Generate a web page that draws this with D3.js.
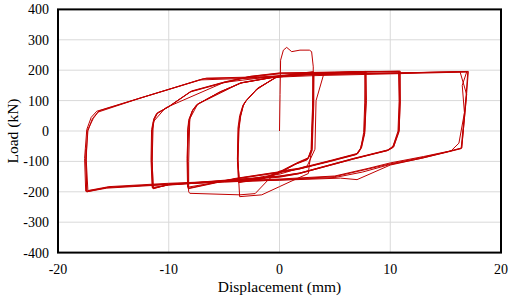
<!DOCTYPE html>
<html>
<head>
<meta charset="utf-8">
<script src="https://cdn.jsdelivr.net/npm/d3@7"></script>
<style>
  body { margin: 0; background: #fff; }
</style>
</head>
<body>
<svg width="514" height="305"></svg>
<script>
// axis ticks
const xTicks = [-20, -10, 0, 10, 20];
const yTicks = [-400, -300, -200, -100, 0, 100, 200, 300, 400];

// first loading to about 3 mm (includes the overshoot near 270 kN)
const initialRun = [
  [0, 0], [0.05, 120], [0.1, 233], [0.35, 266], [0.65, 275], [1.1, 261], [1.85, 266],
  [2.7, 266], [2.9, 261], [3.05, 211], [3.0, 100], [2.95, 0], [2.9, -60], [2.7, -110],
  [2.6, -140], [0.95, -167], [0, -183], [-1.6, -210], [-3.6, -216], [-3.7, -150]
];

// cycles at +/-3 mm
const cycles3 = [
  [[-3.7, -150], [-3.75, -100], [-3.7, 0], [-3.55, 45], [-3.3, 80], [-3.1, 96], [-2.1, 135],
   [-0.25, 179], [1.5, 188], [3.0, 195], [3.05, 100], [2.95, 0], [2.9, -60], [2.6, -88],
   [1.55, -105], [0, -134], [-1.5, -155], [-3.6, -165]],
  [[-3.6, -165], [-3.8, -90], [-3.75, 10], [-3.6, 50], [-3.3, 85], [-3.0, 100], [-2.0, 140],
   [-0.4, 175], [1.4, 185], [3.1, 192], [3.1, 90], [3.0, -10], [2.95, -65], [2.5, -95],
   [1.4, -110], [0, -138], [-1.6, -158], [-3.7, -170]],
  [[-3.7, -170], [-3.8, -95], [-3.7, 5], [-3.55, 48], [-3.3, 82], [-3.05, 98], [-2.05, 138],
   [-0.3, 177], [1.6, 186], [3.05, 193], [3.0, 95], [2.9, -5], [2.85, -62], [2.55, -92],
   [1.5, -108], [0, -136], [-1.55, -157], [-3.65, -168]],
  [[-3.65, -168], [-3.75, -92], [-3.65, 8], [-3.5, 50], [-3.25, 86], [-2.95, 102],
   [-1.9, 142], [-0.2, 178], [1.7, 187], [3.1, 194], [3.05, 92], [2.95, -8], [2.9, -64],
   [2.6, -90], [1.6, -106], [0, -137], [-1.5, -156], [-3.6, -166]]
];

// cycles at about +/-8 mm
const cycles8 = [
  [[-3.6, -166], [-1.5, -150], [0, -142], [2.5, -115], [3.2, -60], [3.3, 100], [4, 188],
   [7.8, 196], [7.85, 100], [7.7, 0], [7.4, -52], [7.1, -73], [4.8, -95], [1.85, -122],
   [0, -132], [-1, -160], [-2.2, -206], [-3.6, -210], [-8.1, -205], [-8.2, -200]],
  [[-8.2, -200], [-8.3, -100], [-8.3, 0], [-8.2, 35], [-7.9, 65], [-7.5, 86], [-5.5, 125],
   [-3.6, 157], [0, 180], [4, 190], [7.7, 195], [7.75, 90], [7.65, -10], [7.3, -58],
   [6.9, -78], [4.6, -100], [1.7, -126], [0, -137], [-4, -158], [-8.3, -185]],
  [[-8.3, -185], [-8.35, -90], [-8.25, 10], [-8.15, 40], [-7.8, 70], [-7.3, 90],
   [-5.3, 130], [-3.3, 160], [0.3, 183], [4.2, 192], [7.75, 194], [7.7, 95], [7.6, -5],
   [7.35, -55], [7.0, -76], [4.7, -98], [1.8, -124], [0, -135], [-4, -157], [-8.25, -190]],
  [[-8.25, -190], [-8.3, -95], [-8.2, 5], [-8.1, 38], [-7.85, 68], [-7.4, 88], [-5.4, 128],
   [-3.5, 158], [0.1, 181], [4.1, 191], [7.8, 195], [7.8, 92], [7.7, -8], [7.4, -56],
   [7.05, -75], [4.7, -97], [1.75, -125], [0, -134], [-4, -156], [-8.2, -188]]
];

// cycles at about +/-11 mm
const cycles11 = [
  [[-8.2, -188], [-8.2, -100], [-8.1, 40], [-7.4, 88], [-3.5, 158], [0, 180], [5, 192],
   [8, 195], [10.9, 197], [10.9, 100], [10.8, 3], [10.3, -52], [9.8, -62], [6.7, -90],
   [1.85, -138], [0, -148], [-5, -162], [-10, -176], [-11.4, -190]],
  [[-11.4, -190], [-11.5, -100], [-11.5, 0], [-11.3, 38], [-11, 60], [-10, 80], [-8, 130],
   [-5, 160], [-2.7, 179], [0, 190], [5, 193], [8, 195], [10.8, 195], [10.85, 95],
   [10.75, -3], [10.2, -55], [9.7, -65], [6.6, -93], [1.7, -141], [0, -152], [-5, -165],
   [-10, -178], [-11.5, -186]],
  [[-11.5, -186], [-11.6, -95], [-11.55, 5], [-11.35, 40], [-11.1, 58], [-10.1, 78],
   [-8.1, 128], [-5.1, 158], [-2.8, 177], [0, 188], [5, 191], [8, 194], [10.75, 196],
   [10.8, 98], [10.7, 0], [10.25, -50], [9.75, -63], [6.7, -92], [1.8, -140], [0, -150],
   [-5, -163], [-10, -177], [-11.45, -188]],
  [[-11.45, -188], [-11.55, -98], [-11.5, 2], [-11.3, 42], [-11.05, 57], [-9.9, 82],
   [-7.9, 132], [-4.9, 162], [-2.6, 180], [0, 191], [5, 194], [8, 196], [10.85, 196],
   [10.9, 96], [10.8, -2], [10.3, -53], [9.8, -64], [6.65, -91], [1.75, -139], [0, -149],
   [-5, -164], [-10, -176], [-11.4, -189]]
];

// cycles at about +/-17 mm
const cycles17 = [
  [[-11.4, -189], [-11.5, -100], [-11.4, 30], [-10.3, 76], [-5, 160], [0, 182], [3, 186],
   [10, 190], [16.3, 195], [16.9, 120], [16.6, 3], [16.45, -56], [15.2, -68], [13, -88],
   [10, -112], [7, -160], [5.5, -155], [0, -162], [-5, -167], [-10, -175], [-15.5, -185],
   [-17.4, -200]],
  [[-17.4, -200], [-17.5, -100], [-17.3, 0], [-16.9, 40], [-16.4, 62], [-12.6, 108],
   [-6.9, 172], [-2, 176], [3, 185], [10, 190], [17.05, 196], [16.9, 124], [16.6, 3],
   [16.45, -56], [15.2, -68], [13, -86], [10, -108], [8, -125], [5, -150], [0, -160],
   [-5, -166], [-10, -174], [-15.5, -186], [-17.5, -198]],
  [[-17.5, -198], [-17.6, -90], [-17.4, 5], [-17.0, 45], [-16.5, 65], [-12.8, 106],
   [-7.2, 168], [-2.2, 174], [3, 182], [10, 188], [16.9, 194], [16.5, 150], [16.7, 60],
   [16.2, -40], [15.5, -65], [13, -84], [10, -105], [8, -123], [5, -148], [0, -158],
   [-5, -165], [-10, -172], [-15.4, -183], [-17.3, -196]],
  [[-17.3, -196], [-17.45, -95], [-17.35, 2], [-16.8, 42], [-16.3, 66], [-12.4, 110],
   [-6.6, 174], [-1.8, 178], [3, 187], [10, 191], [17.0, 195], [16.85, 118], [16.55, 0],
   [16.4, -58], [15.1, -70], [12.8, -90], [10, -110], [7.5, -135], [5, -153], [0, -161],
   [-5, -168], [-10, -176], [-15.6, -188], [-17.4, -200], [-17.5, -60]]
];

const svg = d3.select("svg");
const margin = { left: 58, right: 13, top: 9.4, bottom: 52.4 };
const width = +svg.attr("width");
const height = +svg.attr("height");
const serif = "'Liberation Serif', 'Noto Serif', Tinos, 'Times New Roman', 'DejaVu Serif', serif";

const x = d3.scaleLinear().domain([-20, 20]).range([margin.left, width - margin.right]);
const y = d3.scaleLinear().domain([-400, 400]).range([height - margin.bottom, margin.top]);

// gridlines
svg.append("g")
  .selectAll("line")
  .data(xTicks.slice(1, -1))
  .join("line")
  .attr("x1", d => x(d)).attr("x2", d => x(d))
  .attr("y1", y(400)).attr("y2", y(-400))
  .attr("stroke", "#d9d9d9").attr("stroke-width", 1);

svg.append("g")
  .selectAll("line")
  .data(yTicks.slice(1, -1))
  .join("line")
  .attr("x1", x(-20)).attr("x2", x(20))
  .attr("y1", d => y(d)).attr("y2", d => y(d))
  .attr("stroke", "#d9d9d9").attr("stroke-width", 1);

// hysteresis curves
const line = d3.line().x(d => x(d[0])).y(d => y(d[1]));
const allRuns = [initialRun, ...cycles3, ...cycles8, ...cycles11, ...cycles17];

svg.append("g")
  .selectAll("path")
  .data(allRuns)
  .join("path")
  .attr("d", line)
  .attr("fill", "none")
  .attr("stroke", "#c00000")
  .attr("stroke-width", 1)
  .attr("stroke-linejoin", "round");

// frame
svg.append("rect")
  .attr("x", x(-20)).attr("y", y(400))
  .attr("width", x(20) - x(-20))
  .attr("height", y(-400) - y(400))
  .attr("fill", "none")
  .attr("stroke", "#000")
  .attr("stroke-width", 2);

// tick labels
svg.append("g")
  .selectAll("text")
  .data(xTicks)
  .join("text")
  .attr("x", d => x(d))
  .attr("y", 273.5)
  .attr("text-anchor", "middle")
  .attr("font-family", serif)
  .attr("font-size", 14)
  .text(d => d);

svg.append("g")
  .selectAll("text")
  .data(yTicks)
  .join("text")
  .attr("x", 49)
  .attr("y", d => y(d))
  .attr("dy", "0.35em")
  .attr("text-anchor", "end")
  .attr("font-family", serif)
  .attr("font-size", 14)
  .text(d => d);

// axis titles
svg.append("text")
  .attr("x", x(0))
  .attr("y", 292)
  .attr("text-anchor", "middle")
  .attr("font-family", serif)
  .attr("font-size", 15.5)
  .text("Displacement (mm)");

svg.append("text")
  .attr("transform", `translate(18, ${y(0)}) rotate(-90)`)
  .attr("text-anchor", "middle")
  .attr("font-family", serif)
  .attr("font-size", 15.5)
  .text("Load (kN)");
</script>
</body>
</html>
